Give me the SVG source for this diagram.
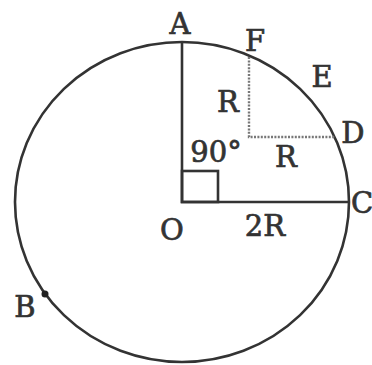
<svg xmlns="http://www.w3.org/2000/svg" width="372" height="365" viewBox="0 0 372 365">
<style>
.ln{fill:none;stroke:#333;stroke-width:2.6}
.dot{fill:none;stroke:#777;stroke-width:2.4;stroke-dasharray:2 1.4}
text{font-family:"DejaVu Serif","Liberation Serif",serif;font-size:29px;fill:#333;stroke:#333;stroke-width:0.7;text-anchor:middle}
</style>
<rect width="372" height="365" fill="#fff"/>
<g id="circle"><ellipse class="ln" cx="182" cy="202" rx="167" ry="160"/></g>
<g id="connectors">
<path class="ln" d="M182 43 V202 H349"/>
<rect class="ln" x="182" y="171" width="36" height="31"/>
<path class="dot" d="M249 57 V137 H335"/>
</g>
<g id="B"><circle cx="45" cy="294" r="3.5" fill="#222"/><text x="25" y="317">B</text></g>
<g id="labels">
<text x="180" y="34">A</text>
<text x="255" y="51">F</text>
<text x="322" y="87">E</text>
<text x="228" y="112">R</text>
<text x="353" y="143">D</text>
<text x="286" y="167">R</text>
<text x="216" y="162">90°</text>
<text x="172" y="240">O</text>
<text x="265" y="236">2R</text>
<text x="362" y="213">C</text>
</g>
</svg>
